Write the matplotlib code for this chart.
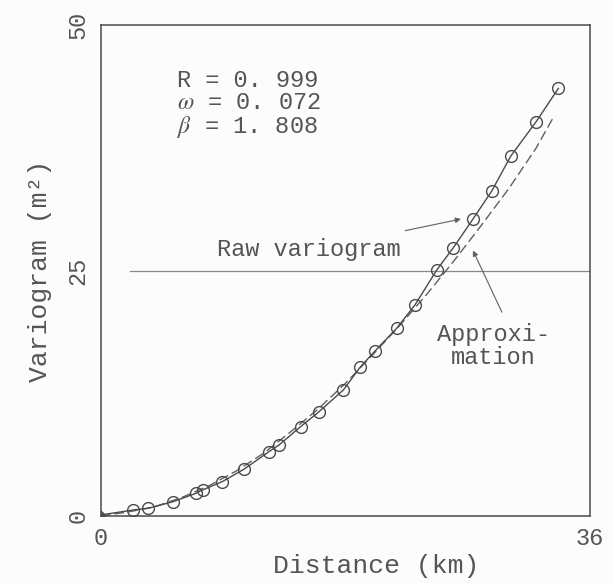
import matplotlib.pyplot as plt

# raw variogram points
dist_raw = [0.0, 2.4, 3.5, 5.34, 7.01, 7.5, 8.95, 10.54, 12.38, 13.12, 14.71, 16.06,
            17.85, 19.08, 20.18, 21.77, 23.12, 24.72, 25.94, 27.37, 28.77, 30.17,
            32.03, 33.67]
vario_raw = [0.1, 0.61, 0.78, 1.46, 2.31, 2.65, 3.5, 4.76, 6.55, 7.23, 9.1, 10.62,
             12.83, 15.14, 16.8, 19.11, 21.49, 25.05, 27.32, 30.21, 33.1, 36.66,
             40.15, 43.55]

# fitted curve (dashed)
dist_fit = [0, 2, 4, 6, 8, 10, 12, 14, 16, 18, 20, 22, 24, 26, 28, 30, 32, 33.3]
vario_fit = [0, 0.4, 0.95, 1.9, 3.1, 4.6, 6.4, 8.6, 10.9, 13.5, 16.4, 19.4, 22.6,
             26.0, 29.6, 33.3, 37.4, 40.6]

sill_level = 25
x_ticks = [0, 36]
y_ticks = [0, 25, 50]
stats_lines = ['R = 0. 999', r'$\omega$ = 0. 072', r'$\beta$ = 1. 808']

plt.rcParams['mathtext.fontset'] = 'stix'
font = 'Liberation Mono'
ink = '#555555'

fig = plt.figure(figsize=(6.14, 5.83), dpi=100, facecolor='#fcfcfc')
ax = fig.add_axes([0.164, 0.115, 0.797, 0.842], facecolor='#fcfcfc')

ax.plot([2.16, 36], [sill_level, sill_level], color='#888888', lw=0.9)
ax.plot(dist_fit, vario_fit, color='#606060', lw=1.0, linestyle=(0, (7, 3)))
ax.plot(dist_raw, vario_raw, color='#4a4a4a', lw=1.0, marker='o', markersize=8.5,
        markerfacecolor='none', markeredgecolor='#4a4a4a', markeredgewidth=1.0,
        markevery=list(range(1, len(dist_raw))))
ax.plot(dist_raw[0], vario_raw[0], marker='D', markersize=4, color='#4a4a4a')

ax.set_xlim(0, 36)
ax.set_ylim(0, 50)
ax.set_xticks(x_ticks)
ax.set_xticklabels([str(v) for v in x_ticks], family=font, fontsize=17, color=ink)
ax.set_yticks(y_ticks)
ax.set_yticklabels([str(v) for v in y_ticks], family=font, fontsize=17, color=ink,
                   rotation=90, va='center')
ax.tick_params(length=0, pad=8)
for s in ax.spines.values():
    s.set_color('#4a4a4a')
    s.set_linewidth(1.1)

ax.set_xlabel('Distance (km)', family=font, fontsize=19, color=ink)
ax.xaxis.set_label_coords(0.563, -0.078)
ax.set_ylabel('Variogram (m²)', family=font, fontsize=19, color=ink)
ax.yaxis.set_label_coords(-0.1, 0.5)

for txt, yv in zip(stats_lines, [44.4, 42.1, 39.6]):
    ax.text(5.6, yv, txt, family=font, fontsize=17, color=ink, va='center', ha='left')

ax.text(15.3, 27.1, 'Raw variogram', family=font, fontsize=17, color=ink,
        ha='center', va='center')
ax.text(28.9, 17.3, 'Approxi-\nmation', family=font, fontsize=17, color=ink,
        ha='center', va='center', linespacing=1.0)

ax.annotate('', xy=(26.7, 30.3), xytext=(22.2, 29.0),
            arrowprops=dict(arrowstyle='-|>', color='#606060', lw=0.8,
                            mutation_scale=8))
ax.annotate('', xy=(27.3, 27.3), xytext=(29.6, 20.5),
            arrowprops=dict(arrowstyle='-|>', color='#606060', lw=0.8,
                            mutation_scale=8))

fig.savefig('out.png', dpi=100, facecolor=fig.get_facecolor())
